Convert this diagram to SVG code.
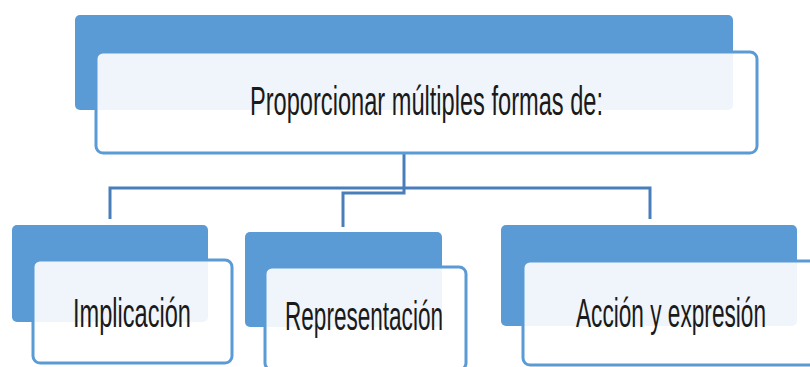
<svg xmlns="http://www.w3.org/2000/svg" width="810" height="367" viewBox="0 0 810 367">
<style>
.back{fill:#5B9BD5}
.front{fill:#ffffff;fill-opacity:0.9;stroke:#5B9BD5;stroke-width:3}
.lbl{font-family:"Liberation Sans","Noto Sans",sans-serif;font-size:41px;fill:#1a1a1a;text-anchor:middle}
.conn{fill:none;stroke:#4A7EBB;stroke-width:3}
</style>
<rect width="810" height="367" fill="#ffffff"/>
<g id="connectors">
<path class="conn" d="M404,153 V193 H343 V227"/>
<path class="conn" d="M110,219 V188 H650 V219"/>
</g>
<g id="top">
<rect class="back" x="75" y="15" width="658" height="95" rx="5"/>
<rect class="front" x="96" y="52" width="661" height="101" rx="7"/>
<text class="lbl" x="426.5" y="115" textLength="353" lengthAdjust="spacingAndGlyphs">Proporcionar múltiples formas de:</text>
</g>
<g id="implicacion">
<rect class="back" x="12" y="225" width="196" height="97" rx="5"/>
<rect class="front" x="33" y="260" width="199" height="103" rx="7"/>
<text class="lbl" x="132" y="327" textLength="118" lengthAdjust="spacingAndGlyphs">Implicación</text>
</g>
<g id="representacion">
<rect class="back" x="245" y="232" width="197" height="95" rx="5"/>
<rect class="front" x="265" y="267" width="201" height="103" rx="7"/>
<text class="lbl" x="364" y="330" textLength="158" lengthAdjust="spacingAndGlyphs">Representación</text>
</g>
<g id="accion">
<rect class="back" x="501" y="225" width="296" height="101" rx="5"/>
<rect class="front" x="523" y="261" width="300" height="104" rx="7"/>
<text class="lbl" x="671" y="327" textLength="190" lengthAdjust="spacingAndGlyphs">Acción y expresión</text>
</g>
</svg>
